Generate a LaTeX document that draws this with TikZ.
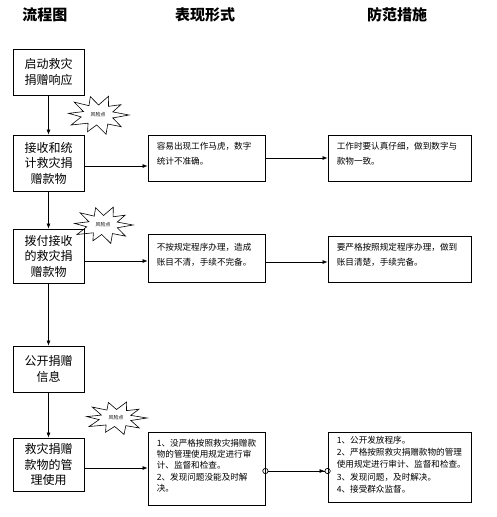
\documentclass[tikz,border=0pt]{standalone}
\usepackage{fontspec}
\setmainfont{Noto Sans CJK SC}
\usetikzlibrary{arrows.meta}
\newcommand\riskstar[5]{% name, x, y, half width, half height
  \node[risktext] (#1) at (#2,#3) {风险点};
  \begin{scope}[shift={(#1)},xscale=#4,yscale=#5]
    \draw[line width=0.6pt] (0:1) -- (17:0.5) -- (38:0.95) -- (55:0.55) -- (75:1) -- (95:0.5) -- (112:0.9) -- (128:0.52) -- (150:1) -- (170:0.55) -- (185:0.95) -- (200:0.5) -- (220:1) -- (238:0.55) -- (255:0.95) -- (272:0.5) -- (290:1) -- (308:0.55) -- (325:0.9) -- (342:0.5) -- cycle;
  \end{scope}}
\begin{document}
\begin{tikzpicture}[x=1pt,y=-1pt,
  flowbox/.style={draw,line width=0.8pt,minimum width=71pt,inner sep=0pt,align=center,font=\fontsize{12}{15.5}\selectfont},
  descbox/.style={draw,line width=0.8pt,inner sep=0pt},
  desctext/.style={anchor=north west,inner sep=0pt,align=left,font=\fontsize{8.6}{15.5}\selectfont},
  head/.style={font=\fontsize{15}{18}\selectfont\bfseries},
  risktext/.style={inner sep=0pt,font=\fontsize{5}{6}\selectfont},
  arr/.style={-{Latex[length=5pt,width=4pt]},line width=0.7pt}
]
\useasboundingbox (0,0) rectangle (496,517);
\node[head] (h1) at (45,15) {流程图};
\node[head] (h2) at (205,15) {表现形式};
\node[head] (h3) at (397,15) {防范措施};

\node[flowbox,minimum height=46pt] (b1) at (48.5,72) {启动救灾\\捐赠响应};
\node[flowbox,minimum height=56pt] (b2) at (48.5,163) {接收和统\\计救灾捐\\赠款物};
\node[flowbox,minimum height=54pt] (b3) at (48.5,256) {拨付接收\\的救灾捐\\赠款物};
\node[flowbox,minimum height=46pt] (b4) at (48.5,369) {公开捐赠\\信息};
\node[flowbox,minimum height=53pt] (b5) at (48.5,464.5) {救灾捐赠\\款物的管\\理使用};

\node[descbox,minimum width=117pt,minimum height=46pt] (m1) at (206.5,158) {};
\node[descbox,minimum width=117pt,minimum height=48pt] (m2) at (206.5,258) {};
\node[descbox,minimum width=117pt,minimum height=73pt] (m3) at (206.5,468.5) {};
\node[descbox,minimum width=143pt,minimum height=46pt] (r1) at (399.5,158) {};
\node[descbox,minimum width=143pt,minimum height=46pt] (r2) at (399.5,259) {};
\node[descbox,minimum width=143pt,minimum height=70pt] (r3) at (399.5,467) {};

\node[desctext] (t1) at ([xshift=9pt,yshift=-7pt]m1.north west) {容易出现工作马虎，数字\\统计不准确。};
\node[desctext] (t2) at ([xshift=9pt,yshift=-9pt]m2.north west) {不按规定程序办理，造成\\账目不清，手续不完备。};
\node[desctext,font=\fontsize{8.6}{11.4}\selectfont] (t3) at ([xshift=9pt,yshift=-7pt]m3.north west) {1、没严格按照救灾捐赠款\\物的管理使用规定进行审\\计、监督和检查。\\2、发现问题没能及时解\\决。};
\node[desctext] (t4) at ([xshift=9pt,yshift=-7pt]r1.north west) {工作时要认真仔细，做到数字与\\款物一致。};
\node[desctext] (t5) at ([xshift=9pt,yshift=-7pt]r2.north west) {要严格按照规定程序办理，做到\\账目清楚，手续完备。};
\node[desctext,font=\fontsize{8.6}{12.4}\selectfont] (t6) at ([xshift=9pt,yshift=-4pt]r3.north west) {1、公开发放程序。\\2、严格按照救灾捐赠款物的管理\\使用规定进行审计、监督和检查。\\3、发现问题，及时解决。\\4、接受群众监督。};

\riskstar{s1}{98}{115}{31}{20}
\riskstar{s2}{103}{225}{30}{19}
\riskstar{s3}{116}{418}{31}{17}

\draw[arr] (b1) -- (b2);
\draw[arr] (b2) -- (b3);
\draw[arr] (b3) -- (b4);
\draw[arr] (b4) -- (b5);
\draw[arr] ([yshift=-3pt]b2.east) -- ([yshift=-3pt]b2.east -| m1.west);
\draw[arr] ([yshift=-5pt]b3.east) -- ([yshift=-5pt]b3.east -| m2.west);
\draw[arr] ([yshift=-3.5pt]b5.east) -- ([yshift=-3.5pt]b5.east -| m3.west);
\draw[arr] (m1.east) -- (r1.west);
\draw[arr] ([yshift=-4pt]m2.east) -- ([yshift=-4pt]m2.east -| r2.west);
\draw[line width=0.7pt,{Circle[open,length=6pt,width=6pt,sep=-3pt]}-{Latex[length=5pt,width=4pt] Circle[open,length=6pt,width=6pt,sep=-3pt]}] ([yshift=-2.5pt]m3.east) -- ([yshift=-2.5pt]m3.east -| r3.west);
\end{tikzpicture}
\end{document}
